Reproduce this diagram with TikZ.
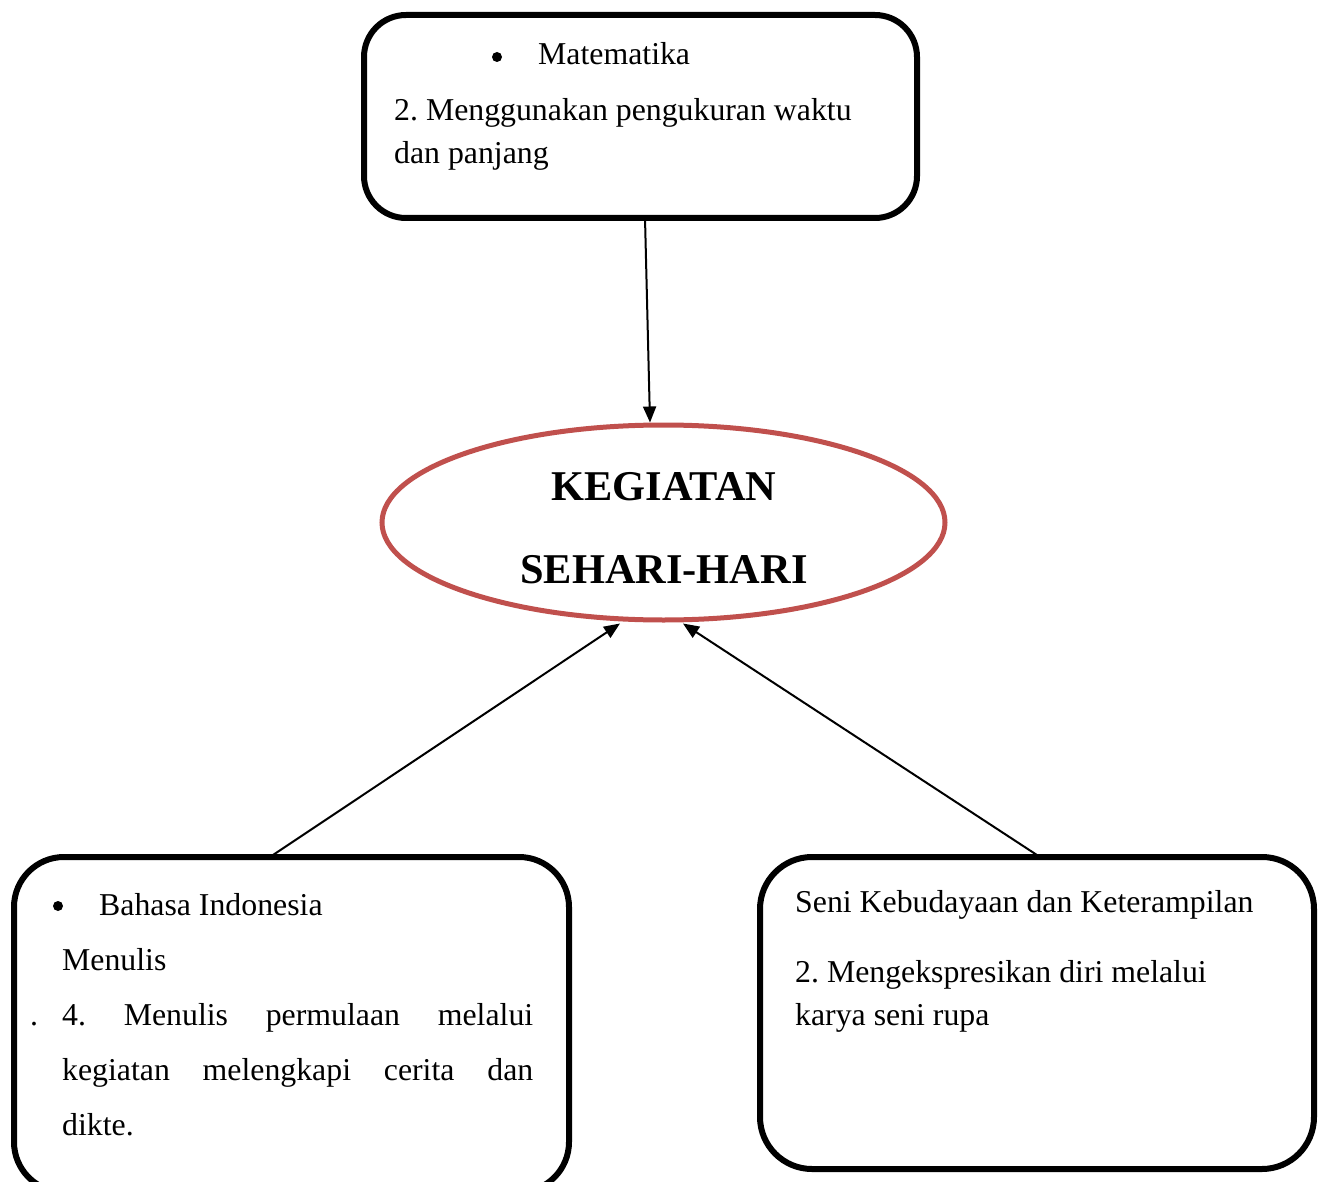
\documentclass[tikz,border=0pt]{standalone}
\usepackage{fontspec}
\setmainfont{Liberation Serif}
\usetikzlibrary{arrows.meta,shapes.geometric,calc}
\definecolor{ellred}{RGB}{192,80,77}
\begin{document}
\frenchspacing
\begin{tikzpicture}[x=1pt,y=-1pt,
  box/.style={draw,line width=6pt,rounded corners=#1,inner sep=0pt,outer sep=0pt,anchor=north west},
  txt/.style={anchor=base west,inner sep=0pt,font=\fontsize{31.8}{38}\selectfont},
  title/.style={anchor=base,inner sep=0pt,font=\fontsize{42.4}{50}\selectfont\bfseries},
  dot/.style={circle,fill,inner sep=0pt,minimum size=10pt},
  conn/.style={line width=2pt,-{Triangle[length=16pt,width=13pt]}}]
\useasboundingbox (0,0) rectangle (1320,1182);
\clip (0,0) rectangle (1320,1182);
% boxes
\node[box=42pt,minimum width=553pt,minimum height=203pt] (top) at (364,15) {};
\node[box=50pt,minimum width=555pt,minimum height=335pt] (lb) at (14,857) {};
\node[box=52pt,minimum width=554pt,minimum height=312pt] (rb) at (760,857) {};
\node[draw=ellred,line width=5pt,ellipse,minimum width=563pt,minimum height=195pt,inner sep=0pt] (ell) at (663.5,522.5) {};
% ellipse text
\node[title] (t1) at (664,500) {KEGIATAN};
\node[title] (t2) at (664,583) {SEHARI-HARI};
% top box text
\node[dot] (b1) at (497,57) {};
\node[txt] (m1) at (538,65) {Matematika};
\node[txt] (m2) at (394,121) {2. Menggunakan pengukuran waktu};
\node[txt] (m3) at (394,164) {dan panjang};
% left box text
\node[dot] (b2) at (58,906) {};
\node[txt] (l1) at (99,915) {Bahasa Indonesia};
\node[txt] (l2) at (62,970) {Menulis};
\node[txt] (l3a) at (30,1025) {.};
\node[txt] (l3) at (62,1025) {\makebox[471pt][s]{4. Menulis permulaan melalui}};
\node[txt] (l4) at (62,1080) {\makebox[471pt][s]{kegiatan melengkapi cerita dan}};
\node[txt] (l5) at (62,1135) {dikte.};
% right box text
\node[txt] (r1) at (795,912) {Seni Kebudayaan dan Keterampilan};
\node[txt] (r2) at (795,982) {2. Mengekspresikan diri melalui};
\node[txt] (r3) at (795,1025) {karya seni rupa};
% connectors
\draw[conn] ([xshift=4.5pt]top.south) -- ([xshift=-13.5pt]ell.north);
\draw[conn] ([xshift=-21.5pt]lb.north) -- ([xshift=-43.5pt,yshift=-1pt]ell.south);
\draw[conn] ([xshift=3pt]rb.north) -- ([xshift=19.5pt,yshift=-1pt]ell.south);
\end{tikzpicture}
\end{document}
